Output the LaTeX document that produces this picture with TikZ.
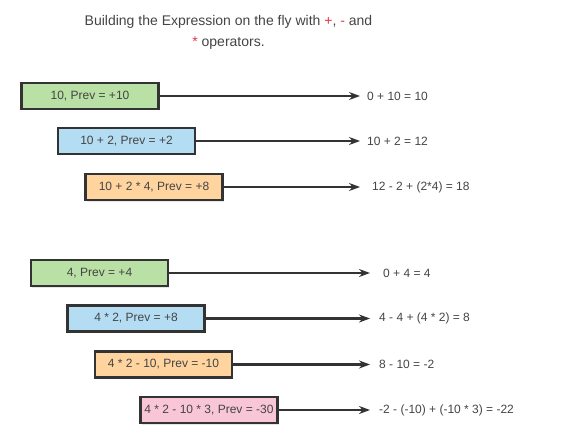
\documentclass[tikz,border=0pt]{standalone}
\usepackage{fontspec}
\setmainfont{Liberation Sans}
\usetikzlibrary{arrows.meta,shadows}
\definecolor{gfill}{HTML}{B9E0A5}
\definecolor{bfill}{HTML}{B4DDF3}
\definecolor{ofill}{HTML}{FFD49F}
\definecolor{pfill}{HTML}{F8C6D7}
\definecolor{edge}{HTML}{333333}
\definecolor{txt}{HTML}{444444}
\definecolor{opred}{HTML}{E0393E}
\tikzset{
  stepbox/.style={draw=edge, line width=2.4pt, minimum width=137pt, minimum height=26pt,
    inner sep=0pt, font=\fontsize{12}{14}\selectfont, text=txt,
    drop shadow={shadow xshift=1pt, shadow yshift=-1.5pt, opacity=0.2}},
  result/.style={anchor=west, inner sep=0pt, font=\fontsize{12}{14}\selectfont, text=txt},
  conn/.style={draw=edge, line width=2.2pt, -{Stealth[length=11pt,width=8pt]}}
}
\begin{document}
\begin{tikzpicture}[x=1pt,y=-1pt]
\useasboundingbox (0,0) rectangle (577,446);
\node[font=\fontsize{14}{21}\selectfont, text=txt, align=center] (title) at (228.5,32)
  {Building the Expression on the fly with \textcolor{opred}{+}, \textcolor{opred}{-} and\\
   \textcolor{opred}{*} operators.};

\node[stepbox, fill=gfill] (b1) at (90,96) {10, Prev = +10};
\node[stepbox, fill=bfill] (b2) at (126.5,141) {10 + 2, Prev = +2};
\node[stepbox, fill=ofill] (b3) at (154,187) {10 + 2 * 4, Prev = +8};
\node[stepbox, fill=gfill] (b4) at (99.5,273) {4, Prev = +4};
\node[stepbox, fill=bfill] (b5) at (136,318.5) {4 * 2, Prev = +8};
\node[stepbox, fill=ofill] (b6) at (163.5,364.5) {4 * 2 - 10, Prev = -10};
\node[stepbox, fill=pfill] (b7) at (209,410) {4 * 2 - 10 * 3, Prev = -30};

\node[result] (r1) at (367,96) {0 + 10 = 10};
\node[result] (r2) at (367,141) {10 + 2 = 12};
\node[result] (r3) at (372,187) {12 - 2 + (2*4) = 18};
\node[result] (r4) at (383,273) {0 + 4 = 4};
\node[result] (r5) at (379,318.5) {4 - 4 + (4 * 2) = 8};
\node[result] (r6) at (379,364.5) {8 - 10 = -2};
\node[result] (r7) at (379,410) {-2 - (-10) + (-10 * 3) = -22};

\draw[conn] (b1.east) -- ([xshift=-7pt]r1.west);
\draw[conn] (b2.east) -- ([xshift=-7pt]r2.west);
\draw[conn] (b3.east) -- ([xshift=-12pt]r3.west);
\draw[conn] (b4.east) -- ([xshift=-13pt]r4.west);
\draw[conn] (b5.east) -- ([xshift=-9pt]r5.west);
\draw[conn] (b6.east) -- ([xshift=-9pt]r6.west);
\draw[conn] (b7.east) -- ([xshift=-9pt]r7.west);
\end{tikzpicture}
\end{document}
